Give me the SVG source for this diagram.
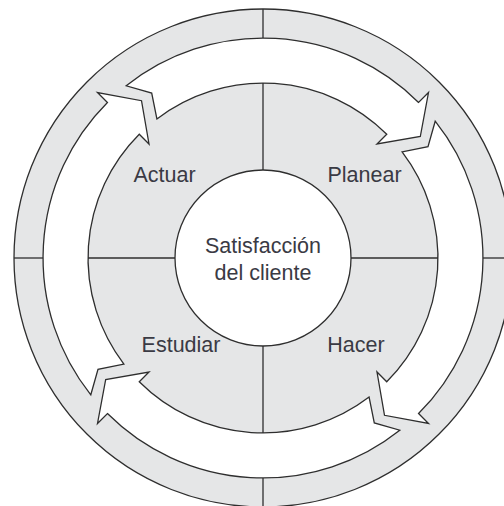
<svg xmlns="http://www.w3.org/2000/svg" width="504" height="506" viewBox="0 0 504 506">
  <style>
    .ln { stroke: #2e2e2e; stroke-width: 1.3; fill: none; }
    .gray { fill: #e5e6e7; stroke: #2e2e2e; stroke-width: 1.3; }
    .white { fill: #ffffff; stroke: #2e2e2e; stroke-width: 1.3; stroke-linejoin: miter; }
    .lbl { font-family: "Liberation Sans", Arial, Helvetica, sans-serif; font-size: 21.5px; fill: #3a3a44; text-anchor: middle; }
  </style>
  <defs>
    <path id="arrow" class="white" d="M 126.2 85.8 A 220 220 0 0 1 418.56 102.44 L 428.5 92.5 L 420.3 136.5 L 377 144 L 386.74 134.26 A 175 175 0 0 0 156.9 118.9 L 151.7 93 Z"/>
  </defs>
  <rect width="504" height="506" fill="#ffffff"/>
  <g id="wheel">
    <circle class="gray" cx="263" cy="258" r="249"/>
  </g>
  <g id="connectors">
    <use href="#arrow"/>
    <use href="#arrow" transform="rotate(90 263 258)"/>
    <use href="#arrow" transform="rotate(180 263 258)"/>
    <use href="#arrow" transform="rotate(270 263 258)"/>
  </g>
  <g id="dividers">
    <line class="ln" x1="263" y1="9" x2="263" y2="38"/>
    <line class="ln" x1="263" y1="83" x2="263" y2="170"/>
    <line class="ln" x1="263" y1="346" x2="263" y2="433"/>
    <line class="ln" x1="263" y1="478" x2="263" y2="507"/>
    <line class="ln" x1="14" y1="258" x2="43" y2="258"/>
    <line class="ln" x1="88" y1="258" x2="175" y2="258"/>
    <line class="ln" x1="351" y1="258" x2="438" y2="258"/>
    <line class="ln" x1="483" y1="258" x2="512" y2="258"/>
  </g>
  <g id="satisfaccion">
    <circle cx="263" cy="258" r="88" fill="#ffffff" stroke="#2e2e2e" stroke-width="1.3"/>
    <text class="lbl" x="263" y="253">Satisfacción</text>
    <text class="lbl" x="263" y="280">del cliente</text>
  </g>
  <g id="actuar"><text class="lbl" x="164.5" y="182">Actuar</text></g>
  <g id="planear"><text class="lbl" x="364.5" y="182">Planear</text></g>
  <g id="estudiar"><text class="lbl" x="181" y="352">Estudiar</text></g>
  <g id="hacer"><text class="lbl" x="356" y="352">Hacer</text></g>
</svg>
